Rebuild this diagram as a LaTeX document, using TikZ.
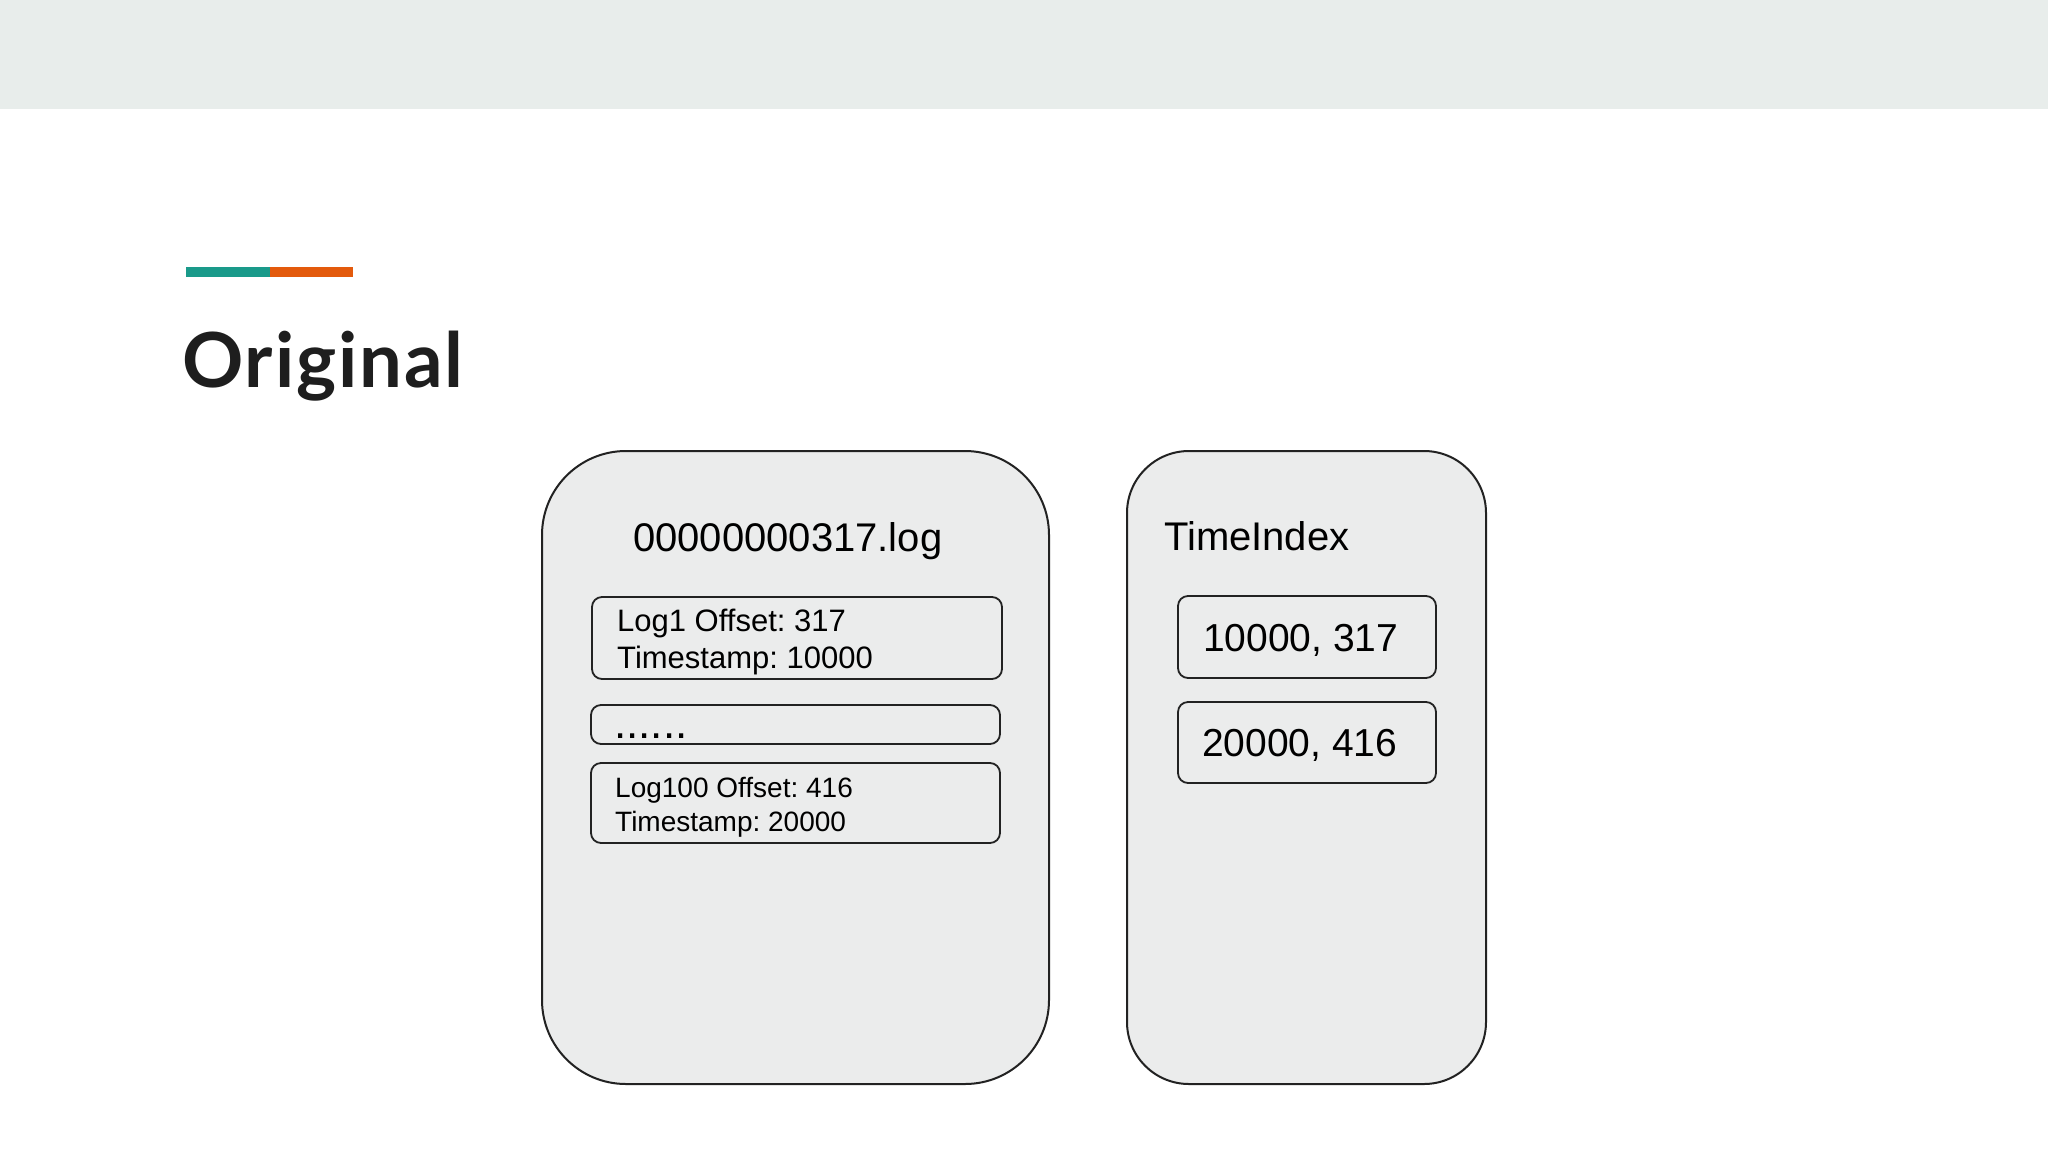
\documentclass[tikz,border=0pt]{standalone}
\usepackage{fontspec}
\setmainfont{Liberation Sans}
\newfontfamily\titlefont[LetterSpace=2.5]{Lato}
\usepackage{tikz}
\frenchspacing

\definecolor{band}{HTML}{E8EDEB}
\definecolor{panel}{HTML}{EBECEC}
\definecolor{accentteal}{HTML}{1A9A8A}
\definecolor{accentrust}{HTML}{E35A0C}
\definecolor{ink}{HTML}{222222}
\definecolor{heading}{HTML}{1E1E1E}

\tikzset{
  filebox/.style={draw=ink, fill=panel, line width=2pt, rounded corners=#1, inner sep=0pt},
  entrybox/.style={draw=ink, fill=panel, line width=1.8pt, rounded corners=10pt, inner sep=0pt},
  txt/.style={anchor=base west, inner sep=0pt, text=black}
}

\begin{document}
\begin{tikzpicture}[x=1pt, y=-1pt]
    \useasboundingbox (0,0) rectangle (2048,1152);
    \fill[white] (0,0) rectangle (2048,1152);
    \fill[band] (0,0) rectangle (2048,109);

    \fill[accentteal] (186,267) rectangle (270,277);
    \fill[accentrust] (270,267) rectangle (353,277);
    \node[txt, text=heading] (title) at (182,387) {\titlefont\bfseries\fontsize{76}{82}\selectfont Original};

    \node[filebox=84pt, minimum width=507pt, minimum height=633pt] (log) at (795.5,767.5) {};
    \node[filebox=62pt, minimum width=359pt, minimum height=633pt] (idx) at (1306.5,767.5) {};

    \node[entrybox, minimum width=410pt, minimum height=82pt] (e1) at (797,638) {};
    \node[entrybox, minimum width=409pt, minimum height=39pt] (e2) at (795.5,724.5) {};
    \node[entrybox, minimum width=409pt, minimum height=80pt] (e3) at (795.5,803) {};

    \node[entrybox, minimum width=258pt, minimum height=82pt] (i1) at (1307,637) {};
    \node[entrybox, minimum width=258pt, minimum height=81pt] (i2) at (1307,742.5) {};

    \node[txt, font=\fontsize{40}{48}\selectfont] (logname) at (633,551.5) {00000000317.log};
    \node[txt, font=\fontsize{40}{48}\selectfont] (idxname) at (1164,550) {TimeIndex};

    \node[txt, font=\fontsize{31}{37}\selectfont] (e1a) at (617,631) {Log1 Offset: 317};
    \node[txt, font=\fontsize{31}{37}\selectfont] (e1b) at (617,668.5) {Timestamp: 10000};
    \node[txt, font=\fontsize{44}{50}\selectfont] (e2a) at (614,738) {......};
    \node[txt, font=\fontsize{28}{34}\selectfont] (e3a) at (615,797) {Log100 Offset: 416};
    \node[txt, font=\fontsize{28}{34}\selectfont] (e3b) at (615,831) {Timestamp: 20000};

    \node[txt, font=\fontsize{39}{46}\selectfont] (i1a) at (1203,651.7) {10000, 317};
    \node[txt, font=\fontsize{39}{46}\selectfont] (i2a) at (1202,756.7) {20000, 416};
\end{tikzpicture}
\end{document}
